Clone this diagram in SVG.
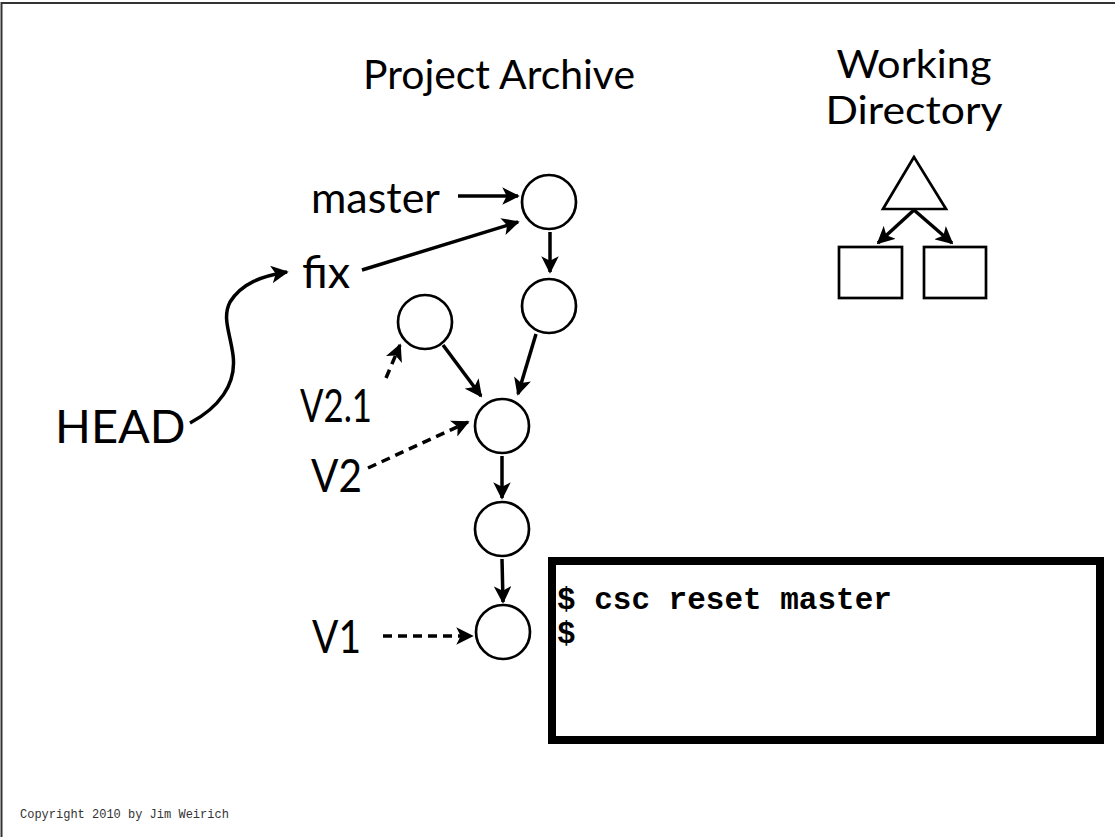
<svg xmlns="http://www.w3.org/2000/svg" width="1115" height="837" viewBox="0 0 1115 837">
<style>
.lbl{font-family:Lato,"Noto Sans",sans-serif;fill:#000}
.node{fill:#fff;stroke:#000;stroke-width:2.7}
.edge{fill:none;stroke:#000;stroke-width:3.5}
.dash{stroke-dasharray:9,6}
.term{font-family:"Liberation Mono","Courier New",monospace;font-weight:bold;font-size:31px;fill:#000}
</style>
<defs>
<marker id="ah" viewBox="0 0 10 10" refX="9" refY="5" markerWidth="5" markerHeight="5" orient="auto" markerUnits="strokeWidth">
<path d="M0,0 L10,5 L0,10 L2.5,5 Z" fill="#000"/>
</marker>
</defs>
<rect width="1115" height="837" fill="#fff"/>
<path d="M1.5,837 V3 H1115" fill="none" stroke="#333" stroke-width="2"/>
<text class="lbl" x="363" y="89" font-size="40" textLength="272" lengthAdjust="spacingAndGlyphs">Project Archive</text>
<text class="lbl" x="914" y="78" font-size="39" text-anchor="middle" textLength="155" lengthAdjust="spacingAndGlyphs">Working</text>
<text class="lbl" x="914" y="124" font-size="39" text-anchor="middle" textLength="177" lengthAdjust="spacingAndGlyphs">Directory</text>

<g id="connectors">
<path class="edge" d="M458,196 H518" marker-end="url(#ah)"/>
<path class="edge" d="M362,270 L518,222" marker-end="url(#ah)"/>
<path class="edge" d="M550,232 L550,272" marker-end="url(#ah)"/>
<path class="edge" d="M536,334 L518,394" marker-end="url(#ah)"/>
<path class="edge" d="M443,345 L481,396" marker-end="url(#ah)"/>
<path class="edge" d="M502,456 L502,498" marker-end="url(#ah)"/>
<path class="edge" d="M502,559 L503,602" marker-end="url(#ah)"/>
<path class="edge dash" d="M386,378 L400,345" marker-end="url(#ah)"/>
<path class="edge dash" d="M368,468 L468,422" marker-end="url(#ah)"/>
<path class="edge dash" d="M383,636 L472,636" marker-end="url(#ah)"/>
<path class="edge" d="M190,423 C218,408 237,385 233,355 C230,332 222,318 230,302 C242,283 262,276 287,272" marker-end="url(#ah)"/>
<path class="edge" d="M914,210 L878,243" marker-end="url(#ah)"/>
<path class="edge" d="M914,210 L952,243" marker-end="url(#ah)"/>
</g>

<g id="c1"><circle class="node" cx="549" cy="202" r="27"/></g>
<g id="c2"><circle class="node" cx="549" cy="306" r="27"/></g>
<g id="c3"><circle class="node" cx="425" cy="322" r="27"/></g>
<g id="c4"><circle class="node" cx="502" cy="426" r="27"/></g>
<g id="c5"><circle class="node" cx="502" cy="529" r="27"/></g>
<g id="c6"><circle class="node" cx="503" cy="632" r="27"/></g>

<g id="master"><text class="lbl" x="311" y="213" font-size="43">master</text></g>
<g id="fix"><text class="lbl" x="302" y="288" font-size="45">fix</text></g>
<g id="head"><text class="lbl" x="55" y="443" font-size="47">HEAD</text></g>
<g id="v21"><text class="lbl" x="300" y="422" font-size="47" textLength="72" lengthAdjust="spacingAndGlyphs">V2.1</text></g>
<g id="v2"><text class="lbl" x="311" y="492" font-size="47" textLength="51" lengthAdjust="spacingAndGlyphs">V2</text></g>
<g id="v1"><text class="lbl" x="312" y="653" font-size="47" textLength="49" lengthAdjust="spacingAndGlyphs">V1</text></g>

<g id="tree">
<polygon class="node" points="914,157 883,209 946,209"/>
</g>
<g id="file1"><rect class="node" x="839" y="247" width="63" height="51"/></g>
<g id="file2"><rect class="node" x="924" y="247" width="62" height="51"/></g>

<g id="terminal">
<rect x="552" y="561" width="548" height="179" fill="#fff" stroke="#000" stroke-width="8"/>
<text class="term" x="557" y="609">$ csc reset master</text>
<text class="term" x="557" y="643">$</text>
</g>

<text x="20" y="818" font-family="'Liberation Mono',monospace" font-size="12" fill="#333">Copyright 2010 by Jim Weirich</text>
</svg>
